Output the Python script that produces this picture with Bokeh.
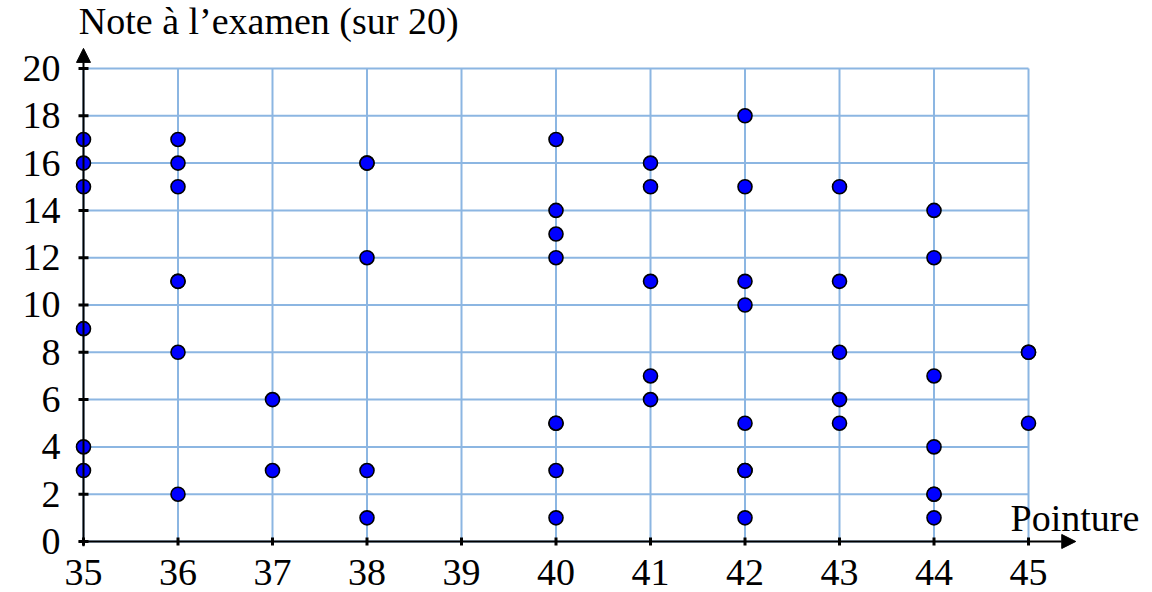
import math
from bokeh.plotting import figure
from bokeh.models import Range1d, FixedTicker, Arrow, NormalHead, Label
from bokeh.embed import file_html
from bokeh.resources import INLINE

# Data: shoe size (pointure) vs exam grade (note sur 20)
shoe_size = [35, 35, 35, 35, 35, 35,
             36, 36, 36, 36, 36, 36, 36,
             37, 37,
             38, 38, 38, 38, 38,
             40, 40, 40, 40, 40, 40, 40, 40,
             41, 41, 41, 41, 41,
             42, 42, 42, 42, 42, 42, 42, 42,
             43, 43, 43, 43, 43,
             44, 44, 44, 44, 44, 44, 44,
             45, 45, 45]
grade = [17, 16, 15, 9, 4, 3,
         17, 16, 15, 11, 11, 8, 2,
         6, 3,
         16, 16, 12, 3, 1,
         17, 14, 13, 12, 5, 5, 3, 1,
         16, 15, 11, 7, 6,
         18, 15, 11, 10, 5, 3, 3, 1,
         15, 11, 8, 6, 5,
         14, 12, 7, 4, 2, 2, 1,
         8, 8, 5]

x_ticks = list(range(35, 46))
y_ticks = list(range(0, 21, 2))
x_title = "Pointure"
y_title = "Note à l’examen (sur 20)"

FONT = "Liberation Serif"
FS = "38px"
GRID = "#8cb6e2"

p = figure(width=1152, height=592, output_backend="svg", toolbar_location=None,
           x_range=Range1d(34.799, 46.312), y_range=Range1d(-0.381, 22.875),
           min_border_left=64, min_border_right=0, min_border_top=0,
           min_border_bottom=42)
p.outline_line_color = None
p.xgrid.visible = False
p.ygrid.visible = False
p.background_fill_color = "white"

for ax, ticks in ((p.xaxis, x_ticks), (p.yaxis, y_ticks)):
    ax.ticker = FixedTicker(ticks=ticks)
    ax.axis_line_color = None
    ax.major_tick_line_color = None
    ax.minor_tick_line_color = None
    ax.major_tick_out = 0
    ax.major_tick_in = 0
    ax.major_label_text_font = FONT
    ax.major_label_text_font_size = FS
    ax.major_label_text_color = "black"
p.xaxis.major_label_standoff = 9
p.yaxis.major_label_standoff = 4

# grid limited to the data box
p.segment(x0=x_ticks, y0=[y_ticks[0]] * len(x_ticks), x1=x_ticks, y1=[y_ticks[-1]] * len(x_ticks),
          line_color=GRID, line_width=2)
p.segment(x0=[x_ticks[0]] * len(y_ticks), y0=y_ticks, x1=[x_ticks[-1]] * len(y_ticks), y1=y_ticks,
          line_color=GRID, line_width=2)

# axes with arrows
p.add_layout(Arrow(end=NormalHead(size=14, fill_color="black", line_color="black"),
                   x_start=34.95, y_start=0, x_end=45.5, y_end=0,
                   line_color="black", line_width=2))
p.add_layout(Arrow(end=NormalHead(size=14, fill_color="black", line_color="black"),
                   x_start=35, y_start=-0.2, x_end=35, y_end=20.85,
                   line_color="black", line_width=2))

# small tick marks
p.scatter(x=x_ticks, y=[0] * len(x_ticks), marker="dash", angle=math.pi / 2, size=8,
          line_color="black", line_width=3)
p.scatter(x=[35] * len(y_ticks), y=y_ticks, marker="dash", size=10,
          line_color="black", line_width=3)

# data points
p.scatter(x=shoe_size, y=grade, size=14, fill_color="#0000ff", line_color="black", line_width=1.6)

p.add_layout(Label(x=34.95, y=21.99, text=y_title, text_font=FONT, text_font_size=FS,
                   text_baseline="alphabetic", text_align="left", text_color="black"))
p.add_layout(Label(x=44.81, y=0.98, text=x_title, text_font=FONT, text_font_size=FS,
                   text_baseline="alphabetic", text_align="left", text_color="black"))

open("out.html", "w").write(file_html(p, INLINE))
